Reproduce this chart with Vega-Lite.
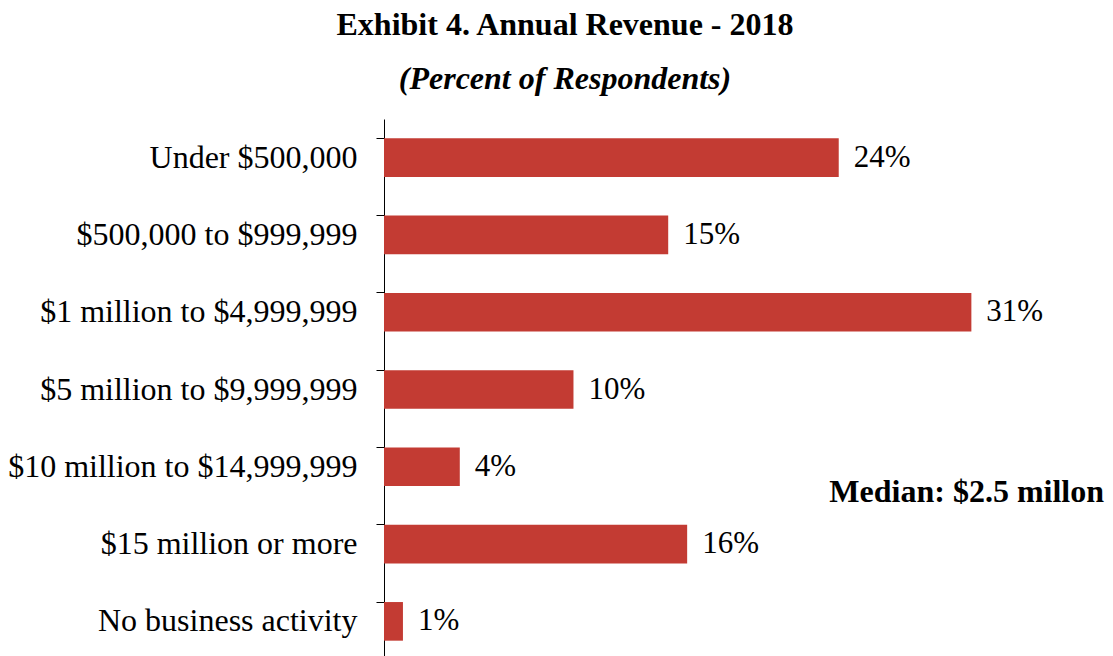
{
  "$schema": "https://vega.github.io/schema/vega-lite/v6.json",
  "autosize": {"type": "none"},
  "padding": {"left": 384, "top": 119, "right": 9, "bottom": 0},
  "width": 720,
  "height": 541,
  "background": "white",
  "title": {
    "text": "Exhibit 4. Annual Revenue - 2018",
    "subtitle": "(Percent of Respondents)",
    "anchor": "middle",
    "frame": "group",
    "dx": -179,
    "offset": 23,
    "font": "Liberation Serif",
    "fontSize": 32,
    "fontWeight": "bold",
    "color": "black",
    "subtitleFont": "Liberation Serif",
    "subtitleFontSize": 32,
    "subtitleFontWeight": "bold",
    "subtitleFontStyle": "italic",
    "subtitleColor": "black",
    "subtitlePadding": 22
  },
  "data": {
    "values": [
      {"category": "Under $500,000", "pct": 24, "label": "24%"},
      {"category": "$500,000 to $999,999", "pct": 15, "label": "15%"},
      {"category": "$1 million to $4,999,999", "pct": 31, "label": "31%"},
      {"category": "$5 million to $9,999,999", "pct": 10, "label": "10%"},
      {"category": "$10 million to $14,999,999", "pct": 4, "label": "4%"},
      {"category": "$15 million or more", "pct": 16, "label": "16%"},
      {"category": "No business activity", "pct": 1, "label": "1%"}
    ]
  },
  "encoding": {
    "y": {
      "field": "category",
      "type": "nominal",
      "sort": null,
      "scale": {"paddingInner": 0.5, "paddingOuter": 0.25},
      "axis": {
        "title": null,
        "domainColor": "black",
        "tickColor": "black",
        "tickSize": 8,
        "bandPosition": 0,
        "labelFont": "Liberation Serif",
        "labelFontSize": 32,
        "labelColor": "black",
        "labelPadding": 19,
        "labelLimit": 500,
        "grid": false
      }
    },
    "x": {
      "field": "pct",
      "type": "quantitative",
      "scale": {"domain": [0, 38]},
      "axis": null
    }
  },
  "layer": [
    {"mark": {"type": "bar", "color": "#C33B33"}},
    {
      "mark": {"type": "text", "align": "left", "baseline": "middle", "dx": 15, "font": "Liberation Serif", "fontSize": 31, "color": "black"},
      "encoding": {"text": {"field": "label"}}
    },
    {
      "data": {"values": [{"category": "$10 million to $14,999,999", "pct": 38, "note": "Median: $2.5 millon"}]},
      "mark": {"type": "text", "align": "right", "baseline": "middle", "dy": 25, "font": "Liberation Serif", "fontSize": 32, "fontWeight": "bold", "color": "black"},
      "encoding": {"text": {"field": "note"}}
    }
  ],
  "config": {"view": {"stroke": null}}
}
